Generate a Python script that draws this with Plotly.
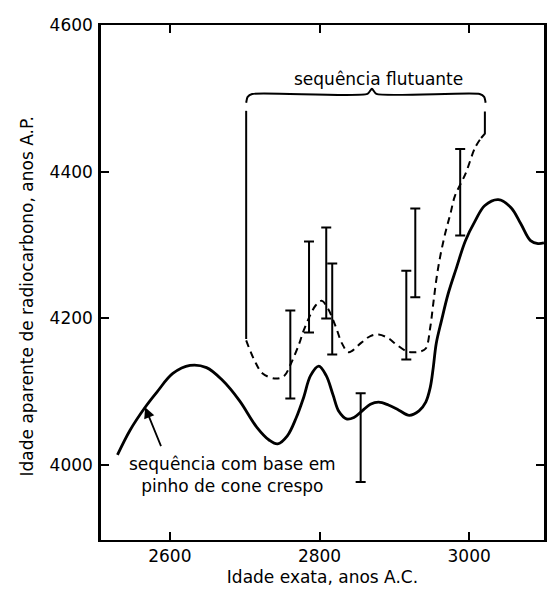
import plotly.graph_objects as go

# ---- data ----
solid_year = [2530, 2547, 2567, 2583, 2604, 2627, 2649, 2670, 2693, 2716, 2733, 2744, 2757, 2769,
              2779, 2788, 2799, 2809, 2818, 2826, 2836, 2846, 2857, 2868, 2879, 2892, 2906, 2920,
              2933, 2942, 2948, 2952, 2956, 2963, 2972, 2983, 2995, 3008, 3021, 3039, 3056, 3069,
              3082, 3092, 3100]
solid_age = [4014, 4048, 4079, 4100, 4125, 4136, 4133, 4116, 4088, 4052, 4034, 4029, 4040, 4065,
             4093, 4122, 4135, 4122, 4096, 4073, 4063, 4065, 4074, 4083, 4086, 4082, 4075, 4068,
             4074, 4086, 4106, 4133, 4166, 4197, 4234, 4269, 4306, 4333, 4354, 4362, 4351, 4329,
             4306, 4302, 4303]

float_year = [2702, 2713, 2724, 2742, 2753, 2762, 2773, 2779, 2795, 2803, 2811, 2822, 2830, 2839,
              2856, 2868, 2879, 2892, 2902, 2915, 2922, 2935, 2942, 2948, 2952, 2956, 2961, 2968,
              2975, 2981, 2995, 3008, 3016]
float_age = [4170, 4143, 4125, 4118, 4122, 4139, 4166, 4184, 4218, 4224, 4214, 4188, 4166, 4154,
             4167, 4176, 4178, 4173, 4165, 4156, 4154, 4155, 4159, 4188, 4220, 4252, 4283, 4316,
             4343, 4367, 4397, 4433, 4446]

left_leg_year = [2702, 2702]
left_leg_age = [4172, 4483]
right_leg_year = [3016, 3021, 3021]
right_leg_age = [4446, 4452, 4482]

brace_year = [2702, 2704, 2710, 2864, 2870, 2876, 3014, 3020, 3022]
brace_age = [4494, 4502, 4506, 4506, 4513, 4506, 4506, 4502, 4494]

err_year = [2761, 2786, 2809, 2817, 2855, 2916, 2928, 2988]
err_low = [4091, 4181, 4200, 4151, 3977, 4144, 4229, 4313]
err_high = [4211, 4305, 4324, 4275, 4098, 4265, 4350, 4431]

x_ticks = [2600, 2800, 3000]
y_ticks = [4000, 4200, 4400, 4600]

FONT = "DejaVu Sans"

err_mid = [(lo + hi) / 2 for lo, hi in zip(err_low, err_high)]
err_half = [(hi - lo) / 2 for lo, hi in zip(err_low, err_high)]

fig = go.Figure()

fig.add_trace(go.Scatter(x=solid_year, y=solid_age, mode="lines",
                         line=dict(color="black", width=2.8, shape="spline", smoothing=1.0),
                         hoverinfo="skip"))
fig.add_trace(go.Scatter(x=float_year, y=float_age, mode="lines",
                         line=dict(color="black", width=2, dash="7px,5px", shape="spline", smoothing=1.0),
                         hoverinfo="skip"))
fig.add_trace(go.Scatter(x=left_leg_year, y=left_leg_age, mode="lines",
                         line=dict(color="black", width=2), hoverinfo="skip"))
fig.add_trace(go.Scatter(x=right_leg_year, y=right_leg_age, mode="lines",
                         line=dict(color="black", width=2), hoverinfo="skip"))
fig.add_trace(go.Scatter(x=brace_year, y=brace_age, mode="lines",
                         line=dict(color="black", width=2, shape="spline", smoothing=0.6),
                         hoverinfo="skip"))
fig.add_trace(go.Scatter(x=err_year, y=err_mid, mode="markers",
                         marker=dict(size=1, color="rgba(0,0,0,0)"),
                         error_y=dict(type="data", array=err_half, symmetric=True,
                                      color="black", thickness=2, width=5),
                         hoverinfo="skip"))

fig.add_annotation(x=2879, y=4527, xref="x", yref="y", text="sequência flutuante",
                   showarrow=False, font=dict(family=FONT, size=17, color="black"))
fig.add_annotation(x=2684, y=3986, xref="x", yref="y",
                   text="sequência com base em<br>pinho de cone crespo",
                   showarrow=False, align="center", font=dict(family=FONT, size=17, color="black"))
fig.add_annotation(x=2567, y=4079, ax=2589, ay=4024, xref="x", yref="y", axref="x", ayref="y",
                   text="", showarrow=True, arrowhead=2, arrowsize=1.2, arrowwidth=1.8,
                   arrowcolor="black", standoff=0)
fig.add_annotation(x=-0.168, y=0.472, xref="paper", yref="paper",
                   text="Idade aparente de radiocarbono, anos A.P.", textangle=-90,
                   showarrow=False, xanchor="center", yanchor="middle",
                   font=dict(family=FONT, size=17, color="black"))

fig.update_layout(
    width=548, height=595,
    margin=dict(l=101, r=1, t=25, b=55),
    paper_bgcolor="white", plot_bgcolor="white",
    showlegend=False,
    font=dict(family=FONT, size=17, color="black"),
    xaxis=dict(range=[2508, 3100], tickvals=x_ticks, ticks="inside", ticklen=8, tickwidth=2,
               tickcolor="black", showline=True, linecolor="black", linewidth=2, mirror="ticks",
               showgrid=False, zeroline=False,
               title=dict(text="Idade exata, anos A.C.", font=dict(family=FONT, size=17), standoff=6),
               tickfont=dict(family=FONT, size=17)),
    yaxis=dict(range=[3898, 4600], tickvals=y_ticks, ticks="inside", ticklen=8, tickwidth=2,
               tickcolor="black", showline=True, linecolor="black", linewidth=2.5, mirror="ticks",
               showgrid=False, zeroline=False, tickfont=dict(family=FONT, size=17),
               ticklabelstandoff=2),
)

fig.write_html("out.html")
